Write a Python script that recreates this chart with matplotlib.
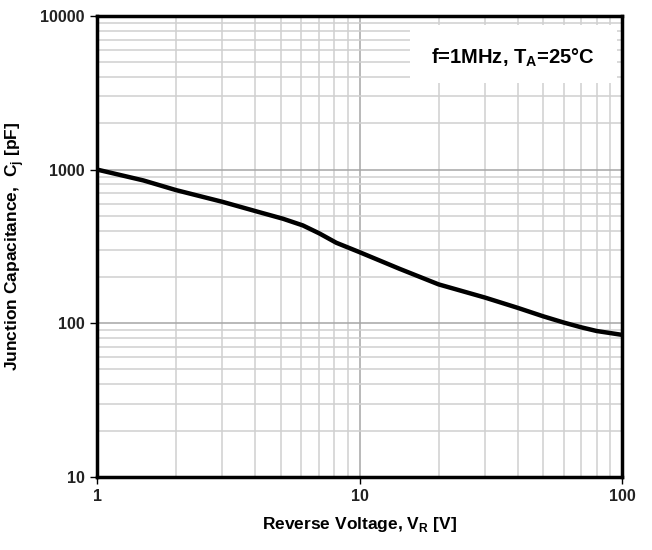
import numpy as np
import matplotlib
matplotlib.use('Agg')
import matplotlib.pyplot as plt
from matplotlib.patches import Rectangle
from matplotlib.ticker import LogLocator, NullFormatter, FixedLocator, FixedFormatter

plt.rcParams['font.family'] = ['Liberation Sans Narrow', 'Liberation Sans', 'DejaVu Sans']

# reverse voltage (V) and junction capacitance (pF)
vr = [1, 1.5, 2, 3, 4.15, 5.1, 6.08, 7.03, 8.15, 10, 14.2, 20, 30, 40, 50, 60, 70, 80, 100]
cj = [1000, 850, 735, 617, 528, 479, 433, 384, 334, 290, 226, 179, 147, 126, 111, 101, 94, 89, 84]

xticks = [1, 10, 100]
yticks = [10, 100, 1000, 10000]

fig = plt.figure(figsize=(6.52, 5.5), dpi=100)
ax = fig.add_axes([0.149, 0.133, 0.805, 0.838])

ax.plot(vr, cj, color='black', lw=3.2, solid_capstyle='butt', zorder=3)

ax.set_xscale('log')
ax.set_yscale('log')
ax.set_xlim(1, 100)
ax.set_ylim(10, 10000)

ax.xaxis.set_major_locator(FixedLocator(xticks))
ax.xaxis.set_major_formatter(FixedFormatter([str(t) for t in xticks]))
ax.yaxis.set_major_locator(FixedLocator(yticks))
ax.yaxis.set_major_formatter(FixedFormatter([str(t) for t in yticks]))
ax.xaxis.set_minor_locator(LogLocator(base=10, subs=np.arange(2, 10)))
ax.yaxis.set_minor_locator(LogLocator(base=10, subs=np.arange(2, 10)))
ax.xaxis.set_minor_formatter(NullFormatter())
ax.yaxis.set_minor_formatter(NullFormatter())

ax.grid(True, which='major', color='#a6a6a6', lw=1.1)
ax.grid(True, which='minor', color='#d0d0d0', lw=1.1)
ax.set_axisbelow(True)

ax.tick_params(which='major', direction='out', length=5, width=1, color='black',
               labelsize=11.5, pad=4)
ax.tick_params(which='minor', length=0)
for lab in ax.get_xticklabels() + ax.get_yticklabels():
    lab.set_fontweight('bold')
    lab.set_color('#222222')

for s in ax.spines.values():
    s.set_linewidth(2.5)
    s.set_color('black')

ax.set_xlabel('Reverse Voltage, V$_\\mathregular{R}$ [V]', fontsize=12.5,
              fontweight='bold', labelpad=8)
ax.set_ylabel('Junction Capacitance,  C$_\\mathregular{j}$ [pF]', fontsize=12.5,
              fontweight='bold', labelpad=10)

# white box behind the condition note
ax.add_patch(Rectangle((0.597, 0.855), 0.393, 0.125, transform=ax.transAxes,
                       fc='white', ec='none', zorder=2.5))
ax.text(0.792, 0.909, 'f=1MHz, T$_\\mathregular{A}$=25°C', transform=ax.transAxes,
        ha='center', va='center', fontsize=14.5, fontweight='bold', zorder=4)

fig.savefig('out.png', dpi=100)
